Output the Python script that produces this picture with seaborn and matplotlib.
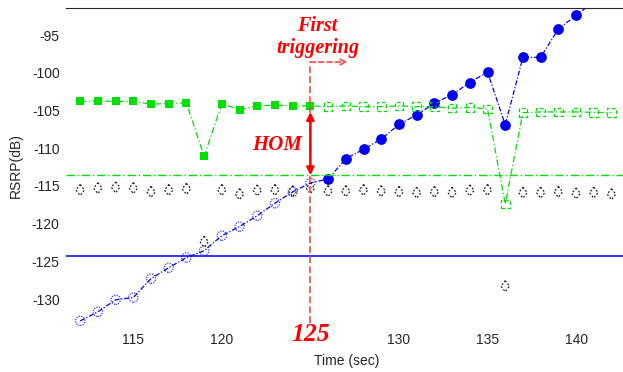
import matplotlib
matplotlib.use("Agg")
import matplotlib.pyplot as plt
import matplotlib.transforms as mtransforms
from matplotlib.ticker import FixedLocator
import seaborn as sns

# ---------------- data ----------------
t_before = list(range(112, 126))          # 112 .. 125
t_after_green = list(range(126, 143))     # 126 .. 142
t_after_blue = list(range(126, 142))      # 126 .. 141
t_all = list(range(112, 143))             # 112 .. 142

serving_before = [-103.8, -103.75, -103.8, -103.8, -104.15, -104.1, -104.0,
                  -111.1, -104.1, -104.9, -104.4, -104.3, -104.4, -104.4]
serving_after = [-104.5, -104.4, -104.5, -104.5, -104.4, -104.5, -104.5,
                 -104.7, -104.6, -104.8, -117.4, -105.3, -105.2, -105.2,
                 -105.2, -105.25, -105.3]

target_before = [-132.9, -131.7, -130.1, -129.8, -127.3, -125.85, -124.5,
                 -123.6, -121.6, -120.4, -118.95, -117.3, -115.8, -114.6]
target_after = [-114.1, -111.4, -110.15, -108.8, -106.85, -105.6, -104.05,
                -102.9, -101.3, -99.9, -106.9, -97.96, -97.96, -94.2,
                -92.4, -90.6]

third_cell = [-115.55, -115.3, -115.2, -115.3, -115.8, -115.55, -115.4,
              -122.4, -115.55, -116.1, -115.6, -115.55, -115.7, -115.3,
              -115.7, -115.7, -115.55, -115.7, -115.8, -115.9, -115.8,
              -115.9, -115.6, -115.55, -128.3, -115.9, -115.9, -115.8,
              -116.0, -115.9, -116.1]

threshold_blue = -124.3
threshold_green = -113.6
trigger_time = 125
trigger_top = -98.58
trigger_arrow_end = 127.1
hom_top = -105.2
hom_bottom = -113.6

xticks = [115, 120, 125, 130, 135, 140]
xtick_labels = ["115", "120", "", "130", "135", "140"]
marked_xticks = [120, 125, 130]
yticks = [-130, -125, -120, -115, -110, -105, -100, -95]
ytick_labels = ["-130", "-125", "-120", "-115", "-110", "-105", "-100", "-95"]
xlim = (111.2, 142.65)
ylim = (-133.18, -91.42)

# ---------------- styling ----------------
sns.set_style("white")
plt.rcParams["font.family"] = ["Liberation Sans", "DejaVu Sans"]

GREEN = "#00e000"
BLUE = "#0000f0"
RED = "#ff0000"
LRED = "#ff4545"
TXT = "#262626"

diamond = [(0, 1), (0.78, 0), (0, -1), (-0.78, 0), (0, 1)]

fig = plt.figure(figsize=(6.23, 3.72), dpi=100)
ax = fig.add_axes([66 / 623, 1 - 323 / 372, 557 / 623, (323 - 8) / 372])

# connecting lines
green_t = t_before + t_after_green
green_v = serving_before + serving_after
blue_t = t_before + t_after_blue
blue_v = target_before + target_after

sns.lineplot(x=green_t, y=green_v, color=GREEN, lw=0.9,
             linestyle=(0, (5, 2, 1, 2)), sort=False, estimator=None, ax=ax)
sns.lineplot(x=blue_t, y=blue_v, color=BLUE, lw=0.9,
             linestyle=(0, (4, 1.5, 1, 1.5)), sort=False, estimator=None, ax=ax)

# threshold lines
ax.axhline(threshold_blue, color="#1010ff", lw=1.2)
ax.axhline(threshold_green, color=GREEN, lw=1.0, linestyle=(0, (6, 2, 1, 2)))

# markers
sns.scatterplot(x=t_all, y=third_cell, marker=diamond, s=62, facecolor="none",
                edgecolor="#222222", linewidth=0.9, linestyle=(0, (1.5, 1.5)), ax=ax)
sns.scatterplot(x=t_before, y=target_before, marker="o", s=45, facecolor="none",
                edgecolor="#3333ff", linewidth=0.9, linestyle=(0, (1, 1)),
                ax=ax, clip_on=False)
sns.scatterplot(x=t_after_blue, y=target_after, marker="o", s=60, color=BLUE,
                edgecolor=BLUE, linewidth=0, ax=ax)
sns.scatterplot(x=t_before, y=serving_before, marker="s", s=30, color=GREEN,
                edgecolor=GREEN, linewidth=0, ax=ax)
sns.scatterplot(x=t_after_green, y=serving_after, marker="s", s=38,
                facecolor="none", edgecolor=GREEN, linewidth=0.9,
                linestyle=(0, (3, 2)), ax=ax)

# trigger markers
ax.vlines(trigger_time, ylim[0], trigger_top, color=LRED, lw=1.2,
          linestyles=(0, (4, 2)), zorder=5)
ax.annotate("", xy=(trigger_arrow_end, trigger_top), xytext=(trigger_time, trigger_top),
            arrowprops=dict(arrowstyle="->", color=LRED, lw=1.2, linestyle=(0, (3, 2)),
                            shrinkA=0, shrinkB=0, mutation_scale=10), zorder=5)
ax.annotate("", xy=(trigger_time, hom_top), xytext=(trigger_time, hom_bottom),
            arrowprops=dict(arrowstyle="<|-|>", color=RED, lw=1.8,
                            shrinkA=0, shrinkB=0, mutation_scale=11), zorder=6)

serif = ["Liberation Serif", "DejaVu Serif"]
ax.text(123.12, -109.6, "HOM", color=RED, fontsize=15, fontweight="bold",
        fontstyle="italic", family=serif, ha="center", va="center", zorder=6)
ax.text(125.4, -95.3, "First\ntriggering", color=RED, fontsize=14.5,
        fontweight="bold", fontstyle="italic", family=serif, ha="center",
        va="center", linespacing=1.15, zorder=6)
trans = mtransforms.blended_transform_factory(ax.transData, ax.transAxes)
ax.text(trigger_time, -0.035, str(trigger_time), transform=trans, color=RED,
        fontsize=18.5, fontweight="bold", fontstyle="italic", family=serif,
        ha="center", va="center", clip_on=False)

# axes cosmetics
ax.set_xlim(*xlim)
ax.set_ylim(*ylim)
ax.set_xticks(xticks)
ax.set_xticklabels(xtick_labels)
ax.set_yticks(yticks)
ax.set_yticklabels(ytick_labels)
ax.xaxis.set_minor_locator(FixedLocator(marked_xticks))
ax.tick_params(axis="x", which="major", length=0, labelsize=10, labelcolor=TXT, pad=7)
ax.tick_params(axis="x", which="minor", direction="in", length=5, width=0.8,
               color=TXT, top=True, bottom=True)
ax.tick_params(axis="y", which="major", length=0, labelsize=10, labelcolor=TXT, pad=4.5)
for side in ["left", "bottom", "right"]:
    ax.spines[side].set_visible(False)
ax.spines["top"].set_color(TXT)
ax.spines["top"].set_linewidth(0.8)

ax.set_xlabel("Time (sec)", fontsize=10, color=TXT)
ax.set_ylabel("RSRP(dB)", fontsize=10, color=TXT)
ax.xaxis.set_label_coords(0.504, -0.10)
ax.yaxis.set_label_coords(-0.077, 0.5)

fig.savefig("out.png", dpi=100)
